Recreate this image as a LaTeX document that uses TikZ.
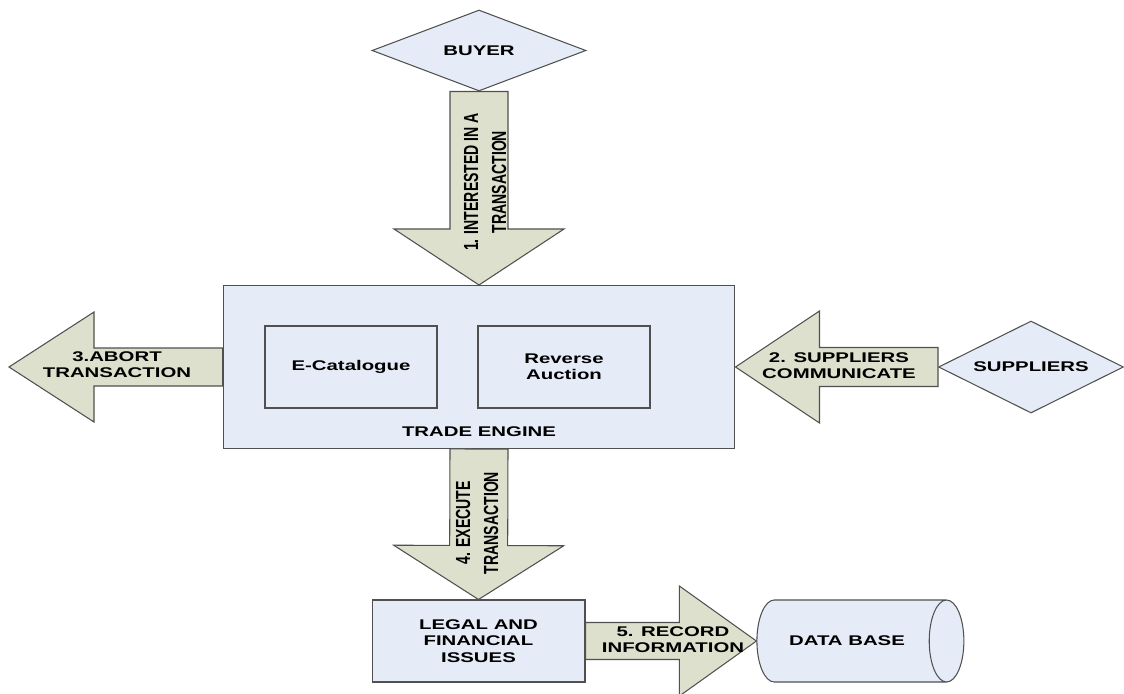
\documentclass[tikz,border=0pt]{standalone}
\usepackage{fontspec}
\setmainfont{Liberation Sans}[FakeStretch=1.45]
\newfontfamily\narrowfont{Liberation Sans}
\usetikzlibrary{shapes.geometric,calc,positioning}

\definecolor{boxblue}{RGB}{230,236,247}
\definecolor{arrowgreen}{RGB}{221,224,204}
\definecolor{edgegray}{RGB}{80,80,80}

% block arrow: start, tip, shaft half width, head half width, head length (px)
\newcommand{\blockarrow}[5]{%
  \coordinate (bahead) at ($(#2)!#5*0.02cm!(#1)$);
  \path[blockarrow] ($(#1)!#3*0.02cm!-90:(#2)$) -- ($(bahead)!#3*0.02cm!-90:(#2)$)
    -- ($(bahead)!#4*0.02cm!-90:(#2)$) -- (#2) -- ($(bahead)!#4*0.02cm!90:(#2)$)
    -- ($(bahead)!#3*0.02cm!90:(#2)$) -- ($(#1)!#3*0.02cm!90:(#2)$) -- cycle;}

\begin{document}
\begin{tikzpicture}[
    x=0.02cm,
    y=-0.02cm,
    font=\bfseries\fontsize{8}{9.2}\selectfont
]


\tikzstyle{box}=[
    rectangle,
    draw=edgegray,
    fill=boxblue,
    line width=0.6pt,
    inner sep=0pt,
    align=center
]
\tikzstyle{party}=[
    diamond,
    draw=edgegray,
    fill=boxblue,
    line width=0.6pt,
    inner sep=0pt,
    aspect=2
]
\tikzstyle{blockarrow}=[draw=edgegray, fill=arrowgreen, line width=0.6pt]
\tikzstyle{arrowtext}=[inner sep=0pt, align=center]
\tikzstyle{vtext}=[
    inner sep=0pt,
    align=center,
    font=\narrowfont\bfseries\fontsize{8}{11}\selectfont,
    xscale=1.45,
    rotate=90
]

\useasboundingbox (0,0) rectangle (1124,693);


\node[party, minimum width=4.28cm, minimum height=1.62cm, aspect=2.6] (buyer) at (479,50.5) {BUYER};
\node[box, minimum width=10.24cm, minimum height=3.26cm] (engine) at (479,367) {};
\node[box, minimum width=3.44cm, minimum height=1.64cm] (ecat) at (351,367) {E-Catalogue};
\node[box, minimum width=3.44cm, minimum height=1.64cm] (rauction) at (564,367) {Reverse\\Auction};
\node (englbl) at (479,432) {TRADE ENGINE};
\node[party, minimum width=3.7cm, minimum height=1.84cm] (suppliers) at (1031,367) {SUPPLIERS};
\node[box, minimum width=4.26cm, minimum height=1.64cm] (legal) at (478.5,641) {LEGAL AND\\FINANCIAL\\ISSUES};
\node[cylinder, draw=edgegray, fill=boxblue, line width=0.6pt, aspect=1.6,
      minimum height=4.14cm, minimum width=1.64cm] (db) at (847,641) {DATA BASE};
\coordinate (aborttip) at (9,367);


\blockarrow{buyer.south}{engine.north}{29}{85}{56}
\blockarrow{engine.west}{aborttip}{19}{55}{85}
\blockarrow{suppliers.west}{engine.east}{19.5}{56}{84}
\blockarrow{engine.south}{legal.north}{29}{85}{54}
\blockarrow{legal.east}{db.west}{18.5}{55}{77}


\node[vtext] (t1) at (485,182) {1. INTERESTED IN A\\TRANSACTION};
\node[arrowtext] (t2) at (839,366) {2. SUPPLIERS\\COMMUNICATE};
\node[arrowtext] (t3) at (117,365) {3.ABORT\\TRANSACTION};
\node[vtext] (t4) at (477,523) {4. EXECUTE\\TRANSACTION};
\node[arrowtext] (t5) at (673,640) {5. RECORD\\INFORMATION};

\end{tikzpicture}
\end{document}
